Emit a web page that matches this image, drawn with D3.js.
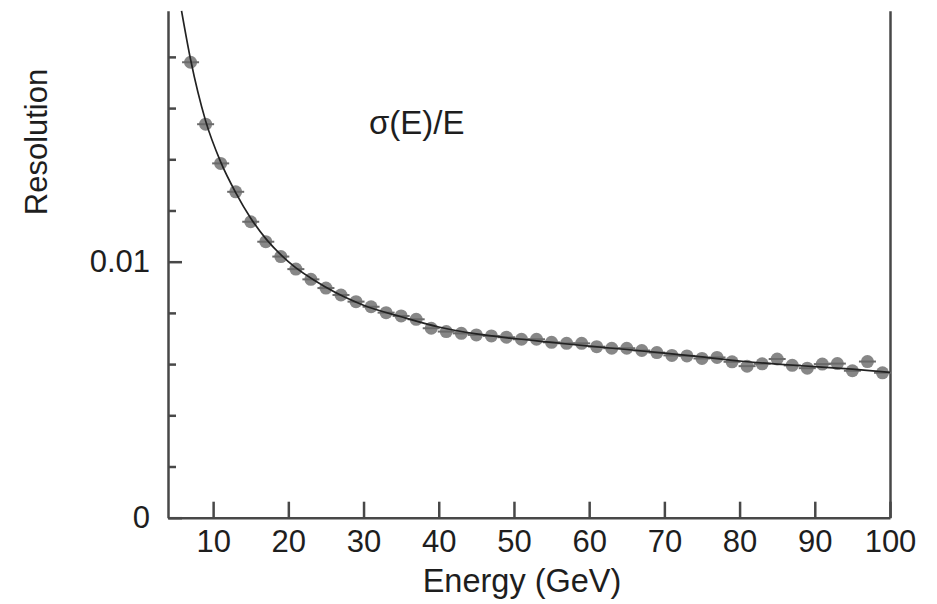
<!DOCTYPE html>
<html lang="en">
<head>
  <meta charset="UTF-8">
  <title>Resolution vs Energy</title>
  <style>
    *{margin:0;padding:0}
    body{background:#fff;width:937px;height:604px;overflow:hidden}
    svg{display:block;font-family:'Liberation Sans',Arial,Helvetica,sans-serif}
    .axis path,.axis line{stroke:#484848;stroke-width:2.5}
    .axis text{fill:#1e1e1e;font-size:31px}
  </style>
  <script src="https://d3js.org/d3.v7.min.js"></script>
</head>
<body>
  <div id="chart"></div>
  <script>
    /* ---------- DATA ---------- */
    const energy = [7,9,11,13,15,17,19,21,23,25,27,29,31,33,35,37,39,41,43,45,47,49,
                    51,53,55,57,59,61,63,65,67,69,71,73,75,77,79,81,83,85,87,89,91,93,95,97,99];
    const resolution = [0.01779,0.01537,0.01384,0.01273,0.01156,0.01078,0.01020,0.00971,0.00931,0.00897,
                        0.00870,0.00844,0.00824,0.00801,0.00788,0.00775,0.00740,0.00727,0.00720,0.00714,
                        0.00710,0.00705,0.00697,0.00697,0.00685,0.00681,0.00681,0.00668,0.00662,0.00662,
                        0.00653,0.00645,0.00634,0.00632,0.00622,0.00626,0.00609,0.00592,0.00601,0.00620,
                        0.00595,0.00584,0.00600,0.00602,0.00574,0.00610,0.00566];
    // fitted curve, sampled from the drawn line
    const fitE = [5.8,7,9,11,13,15,17,20,25,30,35,40,45,50,55,60,65,70,75,80,85,90,95,100];
    const fitR = [0.0198,0.0179,0.0155,0.0139,0.0127,0.0117,0.0109,0.0100,0.0090,0.0083,0.00785,0.00745,
                  0.00718,0.00700,0.00685,0.00670,0.00657,0.00643,0.00628,0.00612,0.00600,0.00590,0.00580,0.00568];
    const xTicks = [10,20,30,40,50,60,70,80,90,100];
    const yMajor = [0,0.01];
    const yMinor = [0.002,0.004,0.006,0.008,0.012,0.014,0.016,0.018];

    /* ---------- SETUP ---------- */
    const W=937,H=604;
    const svg=d3.select('#chart').append('svg').attr('width',W).attr('height',H);
    const x=d3.scaleLinear().domain([4,100]).range([168,890]);
    const y=d3.scaleLinear().domain([0,0.0198]).range([517.7,10.8]);

    /* ---- AXES ---- */
    svg.append('g').attr('class','axis').attr('transform',`translate(${x(4)},0)`)
       .call(d3.axisLeft(y).tickValues(yMinor).tickSize(-8).tickSizeOuter(0).tickFormat(''));
    svg.append('g').attr('class','axis').attr('transform',`translate(${x(4)},0)`)
       .call(d3.axisLeft(y).tickValues(yMajor).tickSize(-14).tickSizeOuter(0).tickPadding(18)
               .tickFormat(d=>d===0?'0':'0.01'))
       .call(g=>g.select('.domain').remove());
    svg.append('g').attr('class','axis').attr('transform',`translate(${x(100)},0)`)
       .call(d3.axisRight(y).tickValues([]).tickSizeOuter(0));
    svg.append('g').attr('class','axis').attr('transform',`translate(0,${y(0)})`)
       .call(d3.axisBottom(x).tickValues(xTicks).tickSize(-16).tickSizeOuter(0).tickPadding(12));
    svg.selectAll('.axis .tick text').attr('fill','#1e1e1e');

    /* ---- POINTS ---- */
    const pts=energy.map((e,i)=>({e,r:resolution[i]}));
    const pg=svg.append('g');
    pg.selectAll('circle').data(pts).enter().append('circle')
      .attr('cx',d=>x(d.e)).attr('cy',d=>y(d.r)).attr('r',6.5)
      .attr('fill','#7a7a7a').attr('opacity',0.9);
    pg.selectAll('line').data(pts).enter().append('line')
      .attr('x1',d=>x(d.e)-8.5).attr('x2',d=>x(d.e)+8.5)
      .attr('y1',d=>y(d.r)).attr('y2',d=>y(d.r))
      .attr('stroke','#6a6a6a').attr('stroke-width',2);

    /* ---- FIT LINE ---- */
    const line=d3.line().x((d,i)=>x(fitE[i])).y(d=>y(d)).curve(d3.curveMonotoneX);
    svg.append('path').datum(fitR).attr('d',line)
       .attr('fill','none').attr('stroke','#222').attr('stroke-width',1.7);

    /* ---- LABELS ---- */
    svg.append('text').attr('x',522).attr('y',592).attr('text-anchor','middle')
       .attr('font-size',32.5).attr('fill','#1e1e1e').text('Energy (GeV)');
    svg.append('text').attr('transform','translate(47,142) rotate(-90)').attr('text-anchor','middle')
       .attr('font-size',31).attr('fill','#1e1e1e').text('Resolution');
    svg.append('text').attr('x',369).attr('y',134)
       .attr('font-size',33).attr('fill','#1e1e1e').text('σ(E)/E');
  </script>
</body>
</html>
